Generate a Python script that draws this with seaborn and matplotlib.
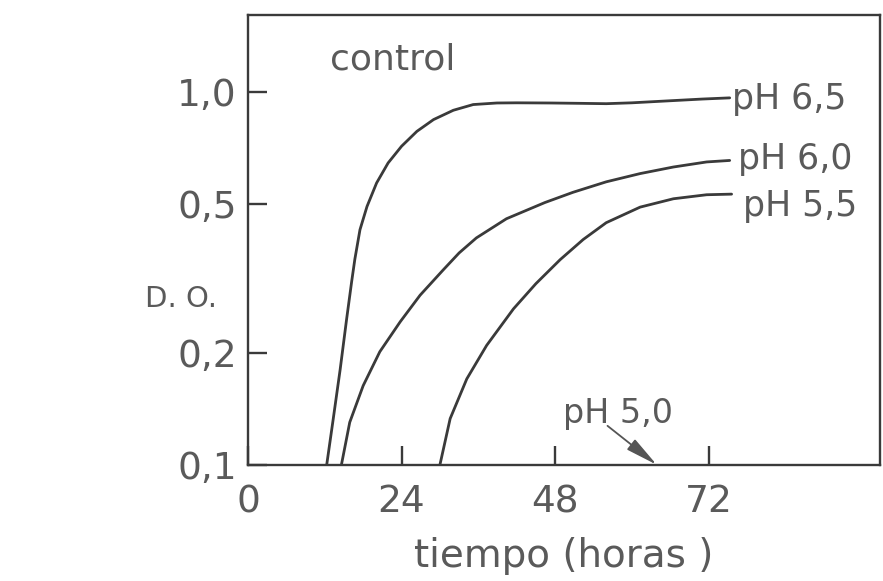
import pandas as pd
import matplotlib
matplotlib.use("Agg")
import matplotlib.pyplot as plt
import matplotlib.ticker as mticker
import seaborn as sns

# curves (tiempo in horas, D.O.)
t_65 = [12.3, 13.3, 14.4, 15.4, 16.2, 16.7, 17.5, 18.6, 20.1, 21.9, 24.0, 26.4,
        29.0, 32.1, 35.2, 38.9, 42.0, 47.2, 52.0, 56.0, 60.0, 66.5, 71.0, 75.3]
do_65 = [0.100, 0.132, 0.180, 0.245, 0.310, 0.356, 0.427, 0.493, 0.570, 0.645,
         0.715, 0.784, 0.843, 0.893, 0.925, 0.934, 0.935, 0.934, 0.932, 0.930,
         0.935, 0.948, 0.957, 0.964]

t_60 = [14.6, 15.9, 18.0, 20.6, 23.8, 26.9, 30.5, 33.0, 35.7, 40.4, 46.4, 50.8,
        56.0, 61.3, 66.5, 71.7, 75.3]
do_60 = [0.100, 0.130, 0.163, 0.201, 0.242, 0.285, 0.333, 0.370, 0.406, 0.457,
         0.505, 0.538, 0.574, 0.604, 0.629, 0.649, 0.655]

t_55 = [30.0, 31.6, 34.2, 37.3, 41.5, 45.0, 48.8, 52.4, 56.0, 61.3, 66.5, 71.7, 75.6]
do_55 = [0.100, 0.133, 0.170, 0.209, 0.262, 0.306, 0.355, 0.402, 0.446, 0.491,
         0.517, 0.530, 0.532]

series = ["pH 6,5", "pH 6,0", "pH 5,5"]
ph50_label = "pH 5,0"
ph50_t = 63.9

x_ticks = [0, 24, 48, 72]
y_ticks = [0.1, 0.2, 0.5, 1.0]
y_ticklabels = ["0,1", "0,2", "0,5", "1,0"]

df = pd.concat([
    pd.DataFrame({"t": t_65, "do": do_65, "pH": series[0]}),
    pd.DataFrame({"t": t_60, "do": do_60, "pH": series[1]}),
    pd.DataFrame({"t": t_55, "do": do_55, "pH": series[2]}),
])

sns.set_style("ticks")
plt.rcParams["font.family"] = ["DejaVu Sans"]

ink = "#3a3a3a"
txt = "#5a5a5a"

fig = plt.figure(figsize=(8.83, 5.81), dpi=100)
ax = fig.add_axes([0.2809, 0.2000, 0.7157, 0.7745])

sns.lineplot(data=df, x="t", y="do", hue="pH", palette={s: ink for s in series},
             sort=False, estimator=None, legend=False, linewidth=2.0, ax=ax)

ax.set_yscale("log")
ax.set_xlim(0, 98.8)
ax.set_ylim(0.1, 1.61)
ax.set_xticks(x_ticks)
ax.set_xticklabels([str(v) for v in x_ticks])
ax.set_yticks(y_ticks)
ax.set_yticklabels(y_ticklabels)
ax.yaxis.set_minor_locator(mticker.NullLocator())
ax.xaxis.set_minor_locator(mticker.NullLocator())

for s in ax.spines.values():
    s.set_color(ink)
    s.set_linewidth(1.7)

ax.tick_params(axis="both", which="major", direction="in", length=13.5, width=1.7,
               color=ink, labelsize=27, labelcolor=txt, bottom=True, left=True,
               top=False, right=False)
ax.tick_params(axis="y", pad=8)
ax.tick_params(axis="x", pad=14)

ax.set_xlabel("tiempo (horas )", fontsize=28, color=txt, labelpad=12)
ax.set_ylabel("D. O.", fontsize=21, color=txt, rotation=0, ha="center", va="center")
ax.yaxis.set_label_coords(-0.106, 0.368)

# labels at the ends of the curves
ends = [(t_65[-1], do_65[-1], (2, -8)), (t_60[-1], do_60[-1], (6, -6)),
        (t_55[-1], do_55[-1], (8, -16))]
for name, (tx, ty, off) in zip(series, ends):
    ax.annotate(name, xy=(tx, ty), xytext=off, textcoords="offset points",
                ha="left", va="baseline", fontsize=25, color=txt)

ax.text(0.13, 0.878, "control", transform=ax.transAxes, fontsize=26,
        color=txt, ha="left", va="baseline")

ax.text(49.2, 0.1296, ph50_label, fontsize=24, color=txt, ha="left", va="baseline")
ax.annotate("", xy=(ph50_t, 0.1), xytext=(56.2, 0.1272),
            arrowprops=dict(arrowstyle="-|>,head_length=1.1,head_width=0.22",
                            color="#555555", lw=1.3, shrinkA=0, shrinkB=0,
                            mutation_scale=18))

fig.savefig("out.png", dpi=100)
